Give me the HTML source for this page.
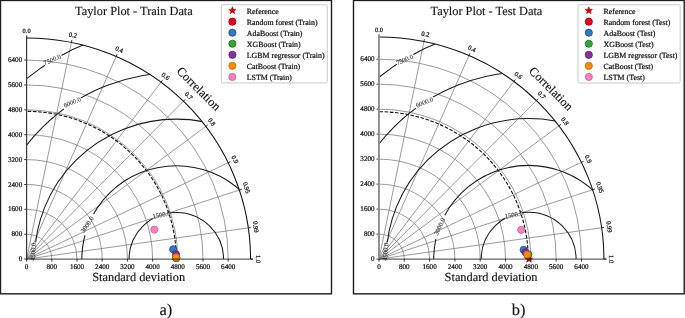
<!DOCTYPE html>
<html><head><meta charset="utf-8"><title>Taylor Plots</title>
<style>
html,body{margin:0;padding:0;background:#fff;}
body{width:685px;height:318px;overflow:hidden;}
svg{display:block;font-family:"Liberation Serif", serif;text-rendering:geometricPrecision;}
text{stroke:#111;stroke-width:0.22px;}
.big{stroke-width:0.12px;}
.cl{stroke:#333;stroke-width:0.12px;}
</style></head>
<body>
<svg width="685" height="318" viewBox="0 0 685 318">
<rect width="685" height="318" fill="#fff"/>
<rect x="0.5" y="0.45" width="331.0" height="293.4" fill="none" stroke="#1e1e1e" stroke-width="1.4"/>
<rect x="353.5" y="0.45" width="330.7" height="293.4" fill="none" stroke="#1e1e1e" stroke-width="1.4"/>
<clipPath id="clipL"><path d="M26.6,259.1 L250.56,259.1 A223.97,221.12 0 0 0 26.6,37.98 Z"/></clipPath>
<mask id="maskL" maskUnits="userSpaceOnUse" x="0" y="0" width="685" height="318"><rect x="0" y="0" width="685" height="318" fill="#fff"/><rect x="-9.6" y="-2.2" width="19.21" height="4.4" fill="#000" transform="translate(52.8,59.6) rotate(-31.37)"/><rect x="-10.19" y="-2.2" width="20.39" height="4.4" fill="#000" transform="translate(72.35,103.2) rotate(-34)"/><rect x="-9.05" y="-2.2" width="18.11" height="4.4" fill="#000" transform="translate(35.05,251.45) rotate(-88.42)"/><rect x="-11.42" y="-2.2" width="22.84" height="4.4" fill="#000" transform="translate(88.85,224.6) rotate(-68.15)"/><rect x="-9.14" y="-2.2" width="18.28" height="4.4" fill="#000" transform="translate(161.4,215.1) rotate(-19.82)"/></mask>
<path d="M51.8,259.1 A25.2,24.88 0 0 0 26.6,234.22 M77,259.1 A50.4,49.76 0 0 0 26.6,209.34 M102.2,259.1 A75.6,74.64 0 0 0 26.6,184.46 M127.4,259.1 A100.8,99.52 0 0 0 26.6,159.58 M152.6,259.1 A126,124.4 0 0 0 26.6,134.7 M177.8,259.1 A151.2,149.28 0 0 0 26.6,109.82 M203,259.1 A176.4,174.16 0 0 0 26.6,84.94 M228.2,259.1 A201.6,199.04 0 0 0 26.6,60.06 M26.6,259.1 L71.39,42.45 M26.6,259.1 L116.19,56.44 M26.6,259.1 L160.98,82.2 M26.6,259.1 L183.38,101.19 M26.6,259.1 L205.77,126.43 M26.6,259.1 L228.17,162.72 M26.6,259.1 L239.37,190.05 M26.6,259.1 L248.33,227.91" fill="none" stroke="#7a7a7a" stroke-width="0.75"/>
<path d="M176.26,259.1 A149.66,147.76 0 0 0 26.6,111.34" fill="none" stroke="#111" stroke-width="1.1" stroke-dasharray="3.6,1.6"/>
<g clip-path="url(#clipL)"><g mask="url(#maskL)" fill="none" stroke="#1a1a1a" stroke-width="1.05"><ellipse cx="176.32" cy="259.1" rx="47.25" ry="46.65"/><ellipse cx="176.32" cy="259.1" rx="94.5" ry="93.3"/><ellipse cx="176.32" cy="259.1" rx="141.75" ry="139.95"/><ellipse cx="176.32" cy="259.1" rx="189" ry="186.6"/><ellipse cx="176.32" cy="259.1" rx="236.25" ry="233.25"/></g></g>
<text x="0" y="0" transform="translate(52.6,60.3) rotate(-23)" font-size="6.6" text-anchor="middle" dominant-baseline="central" fill="#333" class="cl">7500.0</text>
<text x="0" y="0" transform="translate(72.5,103) rotate(-22.5)" font-size="6.6" text-anchor="middle" dominant-baseline="central" fill="#333" class="cl">6000.0</text>
<text x="0" y="0" transform="translate(33.9,251.8) rotate(-86)" font-size="6.6" text-anchor="middle" dominant-baseline="central" fill="#333" class="cl">4500.0</text>
<text x="0" y="0" transform="translate(87.8,225) rotate(-56)" font-size="6.6" text-anchor="middle" dominant-baseline="central" fill="#333" class="cl">3000.0</text>
<text x="0" y="0" transform="translate(161.6,215.5) rotate(-11)" font-size="6.6" text-anchor="middle" dominant-baseline="central" fill="#333" class="cl">1500.0</text>
<path d="M250.56,259.1 A223.97,221.12 0 0 0 26.6,37.98" fill="none" stroke="#111" stroke-width="1.05"/>
<path d="M26.6,259.1 L26.6,261.5 M26.6,259.1 L24.2,259.1 M51.8,259.1 L51.8,261.5 M26.6,234.22 L24.2,234.22 M77,259.1 L77,261.5 M26.6,209.34 L24.2,209.34 M102.2,259.1 L102.2,261.5 M26.6,184.46 L24.2,184.46 M127.4,259.1 L127.4,261.5 M26.6,159.58 L24.2,159.58 M152.6,259.1 L152.6,261.5 M26.6,134.7 L24.2,134.7 M177.8,259.1 L177.8,261.5 M26.6,109.82 L24.2,109.82 M203,259.1 L203,261.5 M26.6,84.94 L24.2,84.94 M228.2,259.1 L228.2,261.5 M26.6,60.06 L24.2,60.06 M26.6,37.98 L26.6,35.55 M71.39,42.45 L71.89,40.06 M116.19,56.44 L117.17,54.21 M160.98,82.2 L162.46,80.26 M183.38,101.19 L185.1,99.45 M205.77,126.43 L207.74,124.97 M228.17,162.72 L230.39,161.66 M239.37,190.05 L241.71,189.3 M248.33,227.91 L250.76,227.56 M250.56,259.1 L253.03,259.1" fill="none" stroke="#222" stroke-width="0.9"/>
<g font-size="7.1" fill="#111"><text x="26.6" y="266.9" text-anchor="middle" dominant-baseline="central">0</text><text x="22.2" y="259.2" text-anchor="end" dominant-baseline="central">0</text><text x="51.8" y="266.9" text-anchor="middle" dominant-baseline="central">800</text><text x="22.2" y="234.32" text-anchor="end" dominant-baseline="central">800</text><text x="77" y="266.9" text-anchor="middle" dominant-baseline="central">1600</text><text x="22.2" y="209.44" text-anchor="end" dominant-baseline="central">1600</text><text x="102.2" y="266.9" text-anchor="middle" dominant-baseline="central">2400</text><text x="22.2" y="184.56" text-anchor="end" dominant-baseline="central">2400</text><text x="127.4" y="266.9" text-anchor="middle" dominant-baseline="central">3200</text><text x="22.2" y="159.68" text-anchor="end" dominant-baseline="central">3200</text><text x="152.6" y="266.9" text-anchor="middle" dominant-baseline="central">4000</text><text x="22.2" y="134.8" text-anchor="end" dominant-baseline="central">4000</text><text x="177.8" y="266.9" text-anchor="middle" dominant-baseline="central">4800</text><text x="22.2" y="109.92" text-anchor="end" dominant-baseline="central">4800</text><text x="203" y="266.9" text-anchor="middle" dominant-baseline="central">5600</text><text x="22.2" y="85.04" text-anchor="end" dominant-baseline="central">5600</text><text x="228.2" y="266.9" text-anchor="middle" dominant-baseline="central">6400</text><text x="22.2" y="60.16" text-anchor="end" dominant-baseline="central">6400</text><text font-size="6.5" x="0" y="0" transform="translate(26.6,31.12) rotate(0)" text-anchor="middle" dominant-baseline="central">0.0</text><text font-size="6.5" x="0" y="0" transform="translate(72.78,35.73) rotate(11.54)" text-anchor="middle" dominant-baseline="central">0.2</text><text font-size="6.5" x="0" y="0" transform="translate(118.96,50.16) rotate(23.58)" text-anchor="middle" dominant-baseline="central">0.4</text><text font-size="6.5" x="0" y="0" transform="translate(165.14,76.72) rotate(36.87)" text-anchor="middle" dominant-baseline="central">0.6</text><text font-size="6.5" x="0" y="0" transform="translate(188.24,96.29) rotate(44.43)" text-anchor="middle" dominant-baseline="central">0.7</text><text font-size="6.5" x="0" y="0" transform="translate(211.33,122.31) rotate(53.13)" text-anchor="middle" dominant-baseline="central">0.8</text><text font-size="6.5" x="0" y="0" transform="translate(234.42,159.73) rotate(64.16)" text-anchor="middle" dominant-baseline="central">0.9</text><text font-size="6.5" x="0" y="0" transform="translate(245.96,187.91) rotate(71.81)" text-anchor="middle" dominant-baseline="central">0.95</text><text font-size="6.5" x="0" y="0" transform="translate(255.2,226.94) rotate(81.89)" text-anchor="middle" dominant-baseline="central">0.99</text><text font-size="6.5" x="0" y="0" transform="translate(257.51,259.1) rotate(90)" text-anchor="middle" dominant-baseline="central">1.0</text></g>
<text x="0" y="0" transform="translate(198.7,88.7) rotate(45)" class="big" font-size="12.35" text-anchor="middle" dominant-baseline="central" fill="#111">Correlation</text>
<text x="138.7" y="280.8" class="big" font-size="12.35" text-anchor="middle" fill="#111">Standard deviation</text>
<text x="133.9" y="15.3" class="big" font-size="12.35" text-anchor="middle" fill="#111">Taylor Plot - Train Data</text>
<polygon points="176.2,254.5 177.23,256.98 179.91,257.19 177.87,258.94 178.49,261.56 176.2,260.15 173.91,261.56 174.53,258.94 172.49,257.19 175.17,256.98" fill="#d00000" stroke="#8b0000" stroke-width="0.45" stroke-linejoin="miter"/>
<circle cx="176.2" cy="257.6" r="3.6" fill="#e2081c" stroke="#8e0010" stroke-width="0.75"/>
<circle cx="173.2" cy="249.3" r="3.6" fill="#3477bd" stroke="#17457f" stroke-width="0.75"/>
<circle cx="176.2" cy="258" r="3.6" fill="#3aa23a" stroke="#1c661c" stroke-width="0.75"/>
<circle cx="176" cy="254.4" r="3.6" fill="#843496" stroke="#4d1a5c" stroke-width="0.75"/>
<circle cx="176.05" cy="257.4" r="3.6" fill="#f48e0c" stroke="#b86400" stroke-width="0.75"/>
<circle cx="154.4" cy="229.6" r="3.6" fill="#f282c2" stroke="#c45e98" stroke-width="0.75"/>
<path d="M26.6,35.68 L26.6,259.1" fill="none" stroke="#333" stroke-width="1.15"/>
<path d="M26.6,259.1 L252.87,259.1" fill="none" stroke="#000" stroke-opacity="0.62" stroke-width="1.35"/>
<rect x="221.4" y="4.7" width="105.9" height="78.2" rx="1.5" fill="#fff" stroke="#c4c4c4" stroke-width="0.9"/>
<polygon points="232.4,6.7 233.43,9.18 236.11,9.39 234.07,11.14 234.69,13.76 232.4,12.36 230.11,13.76 230.73,11.14 228.69,9.39 231.37,9.18" fill="#d00000" stroke="#8b0000" stroke-width="0.45" stroke-linejoin="miter"/>
<text x="246.8" y="11.2" font-size="7.9" dominant-baseline="central" fill="#111">Reference</text>
<circle cx="232.4" cy="21.65" r="3.6" fill="#e2081c" stroke="#8e0010" stroke-width="0.75"/>
<text x="246.8" y="22.25" font-size="7.9" dominant-baseline="central" fill="#111">Random forest (Train)</text>
<circle cx="232.4" cy="32.7" r="3.6" fill="#3477bd" stroke="#17457f" stroke-width="0.75"/>
<text x="246.8" y="33.3" font-size="7.9" dominant-baseline="central" fill="#111">AdaBoost (Train)</text>
<circle cx="232.4" cy="43.75" r="3.6" fill="#3aa23a" stroke="#1c661c" stroke-width="0.75"/>
<text x="246.8" y="44.35" font-size="7.9" dominant-baseline="central" fill="#111">XGBoost (Train)</text>
<circle cx="232.4" cy="54.8" r="3.6" fill="#843496" stroke="#4d1a5c" stroke-width="0.75"/>
<text x="246.8" y="55.4" font-size="7.9" dominant-baseline="central" fill="#111">LGBM regressor (Train)</text>
<circle cx="232.4" cy="65.85" r="3.6" fill="#f48e0c" stroke="#b86400" stroke-width="0.75"/>
<text x="246.8" y="66.45" font-size="7.9" dominant-baseline="central" fill="#111">CatBoost (Train)</text>
<circle cx="232.4" cy="76.9" r="3.6" fill="#f282c2" stroke="#c45e98" stroke-width="0.75"/>
<text x="246.8" y="77.5" font-size="7.9" dominant-baseline="central" fill="#111">LSTM (Train)</text>
<clipPath id="clipR"><path d="M378.95,259.1 L603.92,259.1 A224.97,222.12 0 0 0 378.95,36.98 Z"/></clipPath>
<mask id="maskR" maskUnits="userSpaceOnUse" x="0" y="0" width="685" height="318"><rect x="0" y="0" width="685" height="318" fill="#fff"/><rect x="-9.6" y="-2.2" width="19.21" height="4.4" fill="#000" transform="translate(405.15,59.6) rotate(-31.37)"/><rect x="-10.19" y="-2.2" width="20.39" height="4.4" fill="#000" transform="translate(424.7,103.2) rotate(-34)"/><rect x="-9.05" y="-2.2" width="18.11" height="4.4" fill="#000" transform="translate(387.4,251.45) rotate(-88.42)"/><rect x="-12.74" y="-2.2" width="25.48" height="4.4" fill="#000" transform="translate(439.1,226.8) rotate(-69.08)"/><rect x="-9.14" y="-2.2" width="18.28" height="4.4" fill="#000" transform="translate(513.75,215.1) rotate(-19.82)"/></mask>
<path d="M404.26,259.1 A25.31,24.99 0 0 0 378.95,234.11 M429.58,259.1 A50.63,49.98 0 0 0 378.95,209.12 M454.89,259.1 A75.94,74.98 0 0 0 378.95,184.12 M480.2,259.1 A101.25,99.97 0 0 0 378.95,159.13 M505.52,259.1 A126.57,124.96 0 0 0 378.95,134.14 M530.83,259.1 A151.88,149.95 0 0 0 378.95,109.15 M556.14,259.1 A177.19,174.94 0 0 0 378.95,84.16 M581.46,259.1 A202.51,199.94 0 0 0 378.95,59.16 M378.95,259.1 L423.94,41.47 M378.95,259.1 L468.94,55.53 M378.95,259.1 L513.93,81.41 M378.95,259.1 L536.43,100.48 M378.95,259.1 L558.93,125.83 M378.95,259.1 L581.43,162.28 M378.95,259.1 L592.67,189.74 M378.95,259.1 L601.67,227.77" fill="none" stroke="#7a7a7a" stroke-width="0.75"/>
<path d="M528.24,259.1 A149.29,147.39 0 0 0 378.95,111.71" fill="none" stroke="#111" stroke-width="1.1" stroke-dasharray="3.6,1.6"/>
<g clip-path="url(#clipR)"><g mask="url(#maskR)" fill="none" stroke="#1a1a1a" stroke-width="1.05"><ellipse cx="528.65" cy="259.1" rx="47.46" ry="46.86"/><ellipse cx="528.65" cy="259.1" rx="94.93" ry="93.72"/><ellipse cx="528.65" cy="259.1" rx="142.39" ry="140.58"/><ellipse cx="528.65" cy="259.1" rx="189.85" ry="187.44"/><ellipse cx="528.65" cy="259.1" rx="237.31" ry="234.3"/></g></g>
<text x="0" y="0" transform="translate(404.95,60.3) rotate(-23)" font-size="6.6" text-anchor="middle" dominant-baseline="central" fill="#333" class="cl">7500.0</text>
<text x="0" y="0" transform="translate(424.85,103) rotate(-22.5)" font-size="6.6" text-anchor="middle" dominant-baseline="central" fill="#333" class="cl">6000.0</text>
<text x="0" y="0" transform="translate(386.25,251.8) rotate(-86)" font-size="6.6" text-anchor="middle" dominant-baseline="central" fill="#333" class="cl">4500.0</text>
<text x="0" y="0" transform="translate(440.25,226.8) rotate(-65)" font-size="6.6" text-anchor="middle" dominant-baseline="central" fill="#333" class="cl">3000.0</text>
<text x="0" y="0" transform="translate(513.95,215.5) rotate(-11)" font-size="6.6" text-anchor="middle" dominant-baseline="central" fill="#333" class="cl">1500.0</text>
<path d="M603.92,259.1 A224.97,222.12 0 0 0 378.95,36.98" fill="none" stroke="#111" stroke-width="1.05"/>
<path d="M378.95,259.1 L378.95,261.5 M378.95,259.1 L376.55,259.1 M404.26,259.1 L404.26,261.5 M378.95,234.11 L376.55,234.11 M429.58,259.1 L429.58,261.5 M378.95,209.12 L376.55,209.12 M454.89,259.1 L454.89,261.5 M378.95,184.12 L376.55,184.12 M480.2,259.1 L480.2,261.5 M378.95,159.13 L376.55,159.13 M505.52,259.1 L505.52,261.5 M378.95,134.14 L376.55,134.14 M530.83,259.1 L530.83,261.5 M378.95,109.15 L376.55,109.15 M556.14,259.1 L556.14,261.5 M378.95,84.16 L376.55,84.16 M581.46,259.1 L581.46,261.5 M378.95,59.16 L376.55,59.16 M378.95,36.98 L378.95,34.54 M423.94,41.47 L424.44,39.08 M468.94,55.53 L469.93,53.29 M513.93,81.41 L515.42,79.45 M536.43,100.48 L538.16,98.73 M558.93,125.83 L560.91,124.36 M581.43,162.28 L583.65,161.22 M592.67,189.74 L595.03,188.98 M601.67,227.77 L604.12,227.42 M603.92,259.1 L606.4,259.1" fill="none" stroke="#222" stroke-width="0.9"/>
<g font-size="7.1" fill="#111"><text x="378.95" y="266.9" text-anchor="middle" dominant-baseline="central">0</text><text x="374.55" y="259.2" text-anchor="end" dominant-baseline="central">0</text><text x="404.26" y="266.9" text-anchor="middle" dominant-baseline="central">800</text><text x="374.55" y="234.21" text-anchor="end" dominant-baseline="central">800</text><text x="429.58" y="266.9" text-anchor="middle" dominant-baseline="central">1600</text><text x="374.55" y="209.22" text-anchor="end" dominant-baseline="central">1600</text><text x="454.89" y="266.9" text-anchor="middle" dominant-baseline="central">2400</text><text x="374.55" y="184.22" text-anchor="end" dominant-baseline="central">2400</text><text x="480.2" y="266.9" text-anchor="middle" dominant-baseline="central">3200</text><text x="374.55" y="159.23" text-anchor="end" dominant-baseline="central">3200</text><text x="505.52" y="266.9" text-anchor="middle" dominant-baseline="central">4000</text><text x="374.55" y="134.24" text-anchor="end" dominant-baseline="central">4000</text><text x="530.83" y="266.9" text-anchor="middle" dominant-baseline="central">4800</text><text x="374.55" y="109.25" text-anchor="end" dominant-baseline="central">4800</text><text x="556.14" y="266.9" text-anchor="middle" dominant-baseline="central">5600</text><text x="374.55" y="84.26" text-anchor="end" dominant-baseline="central">5600</text><text x="581.46" y="266.9" text-anchor="middle" dominant-baseline="central">6400</text><text x="374.55" y="59.26" text-anchor="end" dominant-baseline="central">6400</text><text font-size="6.5" x="0" y="0" transform="translate(378.95,30.1) rotate(0)" text-anchor="middle" dominant-baseline="central">0.0</text><text font-size="6.5" x="0" y="0" transform="translate(425.34,34.73) rotate(11.54)" text-anchor="middle" dominant-baseline="central">0.2</text><text font-size="6.5" x="0" y="0" transform="translate(471.73,49.22) rotate(23.58)" text-anchor="middle" dominant-baseline="central">0.4</text><text font-size="6.5" x="0" y="0" transform="translate(518.12,75.9) rotate(36.87)" text-anchor="middle" dominant-baseline="central">0.6</text><text font-size="6.5" x="0" y="0" transform="translate(541.31,95.56) rotate(44.43)" text-anchor="middle" dominant-baseline="central">0.7</text><text font-size="6.5" x="0" y="0" transform="translate(564.51,121.7) rotate(53.13)" text-anchor="middle" dominant-baseline="central">0.8</text><text font-size="6.5" x="0" y="0" transform="translate(587.7,159.28) rotate(64.16)" text-anchor="middle" dominant-baseline="central">0.9</text><text font-size="6.5" x="0" y="0" transform="translate(599.3,187.59) rotate(71.81)" text-anchor="middle" dominant-baseline="central">0.95</text><text font-size="6.5" x="0" y="0" transform="translate(608.58,226.8) rotate(81.89)" text-anchor="middle" dominant-baseline="central">0.99</text><text font-size="6.5" x="0" y="0" transform="translate(610.9,259.1) rotate(90)" text-anchor="middle" dominant-baseline="central">1.0</text></g>
<text x="0" y="0" transform="translate(551.05,88.7) rotate(45)" class="big" font-size="12.35" text-anchor="middle" dominant-baseline="central" fill="#111">Correlation</text>
<text x="491.05" y="280.8" class="big" font-size="12.35" text-anchor="middle" fill="#111">Standard deviation</text>
<text x="486.4" y="15.3" class="big" font-size="12.35" text-anchor="middle" fill="#111">Taylor Plot - Test Data</text>
<polygon points="528.9,255.2 529.93,257.68 532.61,257.89 530.57,259.64 531.19,262.26 528.9,260.86 526.61,262.26 527.23,259.64 525.19,257.89 527.87,257.68" fill="#d00000" stroke="#8b0000" stroke-width="0.45" stroke-linejoin="miter"/>
<circle cx="527.6" cy="255.2" r="3.6" fill="#e2081c" stroke="#8e0010" stroke-width="0.75"/>
<circle cx="523.65" cy="249.8" r="3.6" fill="#3477bd" stroke="#17457f" stroke-width="0.75"/>
<circle cx="528.3" cy="254.3" r="3.6" fill="#3aa23a" stroke="#1c661c" stroke-width="0.75"/>
<circle cx="525.6" cy="252.3" r="3.6" fill="#843496" stroke="#4d1a5c" stroke-width="0.75"/>
<circle cx="527.3" cy="254.6" r="3.6" fill="#f48e0c" stroke="#b86400" stroke-width="0.75"/>
<circle cx="521.2" cy="229.8" r="3.6" fill="#f282c2" stroke="#c45e98" stroke-width="0.75"/>
<path d="M378.95,34.68 L378.95,259.1" fill="none" stroke="#8e8e8e" stroke-width="1.9"/>
<path d="M378.95,259.1 L606.22,259.1" fill="none" stroke="#000" stroke-opacity="0.62" stroke-width="1.35"/>
<rect x="578" y="4.7" width="102.2" height="78.3" rx="1.5" fill="#fff" stroke="#c4c4c4" stroke-width="0.9"/>
<polygon points="588.8,6.7 589.83,9.18 592.51,9.39 590.47,11.14 591.09,13.76 588.8,12.36 586.51,13.76 587.13,11.14 585.09,9.39 587.77,9.18" fill="#d00000" stroke="#8b0000" stroke-width="0.45" stroke-linejoin="miter"/>
<text x="603.5" y="11.2" font-size="7.9" dominant-baseline="central" fill="#111">Reference</text>
<circle cx="588.8" cy="21.65" r="3.6" fill="#e2081c" stroke="#8e0010" stroke-width="0.75"/>
<text x="603.5" y="22.25" font-size="7.9" dominant-baseline="central" fill="#111">Random forest (Test)</text>
<circle cx="588.8" cy="32.7" r="3.6" fill="#3477bd" stroke="#17457f" stroke-width="0.75"/>
<text x="603.5" y="33.3" font-size="7.9" dominant-baseline="central" fill="#111">AdaBoost (Test)</text>
<circle cx="588.8" cy="43.75" r="3.6" fill="#3aa23a" stroke="#1c661c" stroke-width="0.75"/>
<text x="603.5" y="44.35" font-size="7.9" dominant-baseline="central" fill="#111">XGBoost (Test)</text>
<circle cx="588.8" cy="54.8" r="3.6" fill="#843496" stroke="#4d1a5c" stroke-width="0.75"/>
<text x="603.5" y="55.4" font-size="7.9" dominant-baseline="central" fill="#111">LGBM regressor (Test)</text>
<circle cx="588.8" cy="65.85" r="3.6" fill="#f48e0c" stroke="#b86400" stroke-width="0.75"/>
<text x="603.5" y="66.45" font-size="7.9" dominant-baseline="central" fill="#111">CatBoost (Test)</text>
<circle cx="588.8" cy="76.9" r="3.6" fill="#f282c2" stroke="#c45e98" stroke-width="0.75"/>
<text x="603.5" y="77.5" font-size="7.9" dominant-baseline="central" fill="#111">LSTM (Test)</text>
<text x="165.8" y="314.9" class="big" font-size="16.5" text-anchor="middle" fill="#111">a)</text>
<text x="518.6" y="314.9" class="big" font-size="16.5" text-anchor="middle" fill="#111">b)</text>
</svg>
</body></html>
